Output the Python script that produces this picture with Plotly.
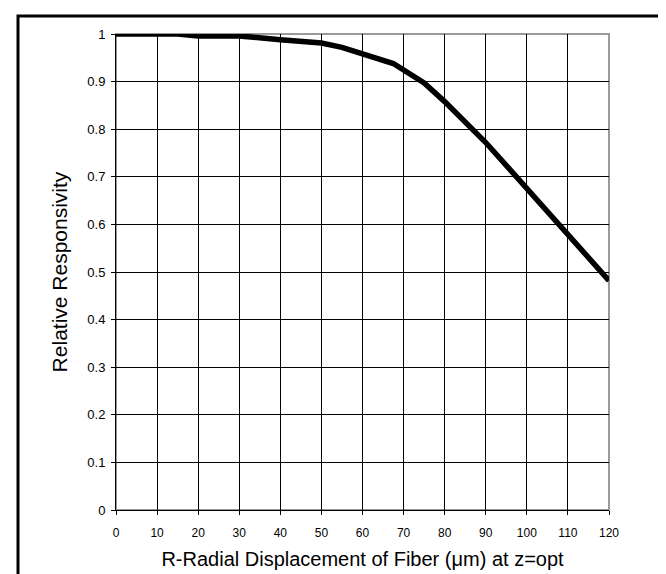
import plotly.graph_objects as go

# Data
displacement_um = [0, 10, 15, 20, 30, 40, 50, 55, 60, 67.5, 75, 80, 90, 100, 110, 115, 120]
relative_resp = [1.0, 1.0, 1.0, 0.996, 0.996, 0.988, 0.981, 0.972, 0.958, 0.938, 0.897,
                 0.858, 0.772, 0.675, 0.575, 0.528, 0.482]

x_title = "R-Radial Displacement of Fiber (μm) at z=opt"
y_title = "Relative Responsivity"

FONT = "Arial, 'Liberation Sans', sans-serif"

W, H = 666, 574
ML, MR, MT, MB = 108, 65, 26, 72
PW, PH = W - ML - MR, H - MT - MB


def px_x(p):
    return (p - ML) / PW


def px_y(p):
    return (H - MB - p) / PH


fig = go.Figure()
fig.add_trace(go.Scatter(
    x=displacement_um, y=relative_resp, mode="lines",
    line=dict(color="black", width=5.5),
    cliponaxis=False, showlegend=False,
))

axis_common = dict(
    showgrid=True, gridcolor="black", gridwidth=1,
    showline=True, linecolor="black", linewidth=1,
    ticks="outside", ticklen=4, tickcolor="black", tickwidth=1,
    zeroline=False, fixedrange=True,
)

fig.update_xaxes(range=[0, 120], dtick=10, tick0=0,
                 tickfont=dict(family=FONT, size=12, color="black"),
                 title=dict(text=x_title, font=dict(family=FONT, size=20, color="black"), standoff=12),
                 ticklabelstandoff=8, **axis_common)
fig.update_yaxes(range=[0, 1], dtick=0.1, tick0=0,
                 tickfont=dict(family=FONT, size=13, color="black"),
                 title=dict(text=y_title, font=dict(family=FONT, size=21, color="black"), standoff=13),
                 ticklabelstandoff=3, **axis_common)

# gray plot-area border (top/right)
fig.add_shape(type="rect", xref="paper", yref="paper", x0=0, y0=0, x1=1, y1=1,
              line=dict(color="#9a9a9a", width=2), layer="between")
# outer chart frame (open at the bottom)
x0, x1 = px_x(10), px_x(662.5)
y_top, y_bot = px_y(8), px_y(590)
fig.add_shape(type="path", xref="paper", yref="paper",
              path=f"M {x0},{y_bot} L {x0},{y_top} L {x1},{y_top} L {x1},{y_bot}",
              line=dict(color="black", width=3), layer="above")

fig.update_layout(
    width=W, height=H,
    margin=dict(l=ML, r=MR, t=MT, b=MB, autoexpand=False),
    paper_bgcolor="white", plot_bgcolor="white",
    font=dict(family=FONT, color="black"),
)

fig.write_html("out.html")
